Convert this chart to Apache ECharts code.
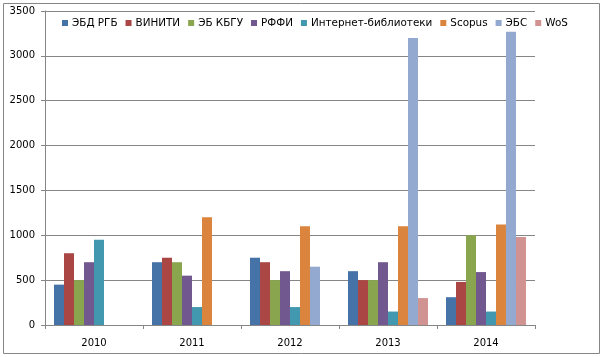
<!DOCTYPE html>
<html>
<head>
<meta charset="utf-8">
<script src="https://cdn.jsdelivr.net/npm/echarts@6/dist/echarts.min.js"></script>
<style>
html,body{margin:0;padding:0;background:#fff;}
#c{width:603px;height:357px;}
</style>
</head>
<body>
<div id="c"></div>
<script>
var categories = ['2010', '2011', '2012', '2013', '2014'];
var seriesNames = ['ЭБД РГБ', 'ВИНИТИ', 'ЭБ КБГУ', 'РФФИ', 'Интернет-библиотеки', 'Scopus', 'ЭБС', 'WoS'];
var ebdRgb   = [450, 700, 750, 600, 310];
var viniti   = [800, 750, 700, 500, 480];
var ebKbgu   = [500, 700, 500, 500, 1000];
var rffi     = [700, 550, 600, 700, 590];
var internet = [950, 200, 200, 150, 150];
var scopus   = [null, 1200, 1100, 1100, 1120];
var ebs      = [null, null, 650, 3200, 3270];
var wos      = [null, null, null, 300, 980];
var yTicks   = [0, 500, 1000, 1500, 2000, 2500, 3000, 3500];

var colors = ['#4572A7', '#AA4643', '#89A54E', '#71588F', '#4198AF', '#DB843D', '#93A9CF', '#D19392'];
var values = [ebdRgb, viniti, ebKbgu, rffi, internet, scopus, ebs, wos];

var chart = echarts.init(document.getElementById('c'));
var font = 'DejaVu Sans';
chart.setOption({
  animation: false,
  color: colors,
  graphic: [{
    type: 'rect',
    shape: {x: 3.5, y: 3.5, width: 596, height: 350},
    style: {fill: 'none', stroke: '#868686', lineWidth: 1},
    silent: true
  }],
  legend: {
    left: 57, top: 13,
    itemWidth: 6, itemHeight: 6, itemGap: 8,
    icon: 'rect',
    textStyle: {fontFamily: font, fontSize: 10.4, color: '#000', padding: [0, 0, 0, -1]},
    data: seriesNames
  },
  grid: {left: 45, right: 68, top: 11, bottom: 32, containLabel: false},
  xAxis: {
    type: 'category',
    data: categories,
    axisLine: {lineStyle: {color: '#868686', width: 1}},
    axisTick: {show: true, length: 4, lineStyle: {color: '#868686'}},
    axisLabel: {fontFamily: font, fontSize: 10, color: '#000', margin: 13}
  },
  yAxis: {
    type: 'value',
    min: yTicks[0], max: yTicks[yTicks.length - 1], interval: 500,
    axisLine: {show: true, lineStyle: {color: '#868686', width: 1}},
    axisTick: {show: true, length: 4, lineStyle: {color: '#868686'}},
    splitLine: {lineStyle: {color: '#868686', width: 1}},
    axisLabel: {fontFamily: font, fontSize: 10, color: '#000', margin: 10,
      formatter: function (v) { return String(v); }}
  },
  series: seriesNames.map(function (n, i) {
    return {
      name: n, type: 'bar', data: values[i],
      barGap: '0%', barCategoryGap: '18.4%'
    };
  })
});
</script>
</body>
</html>
